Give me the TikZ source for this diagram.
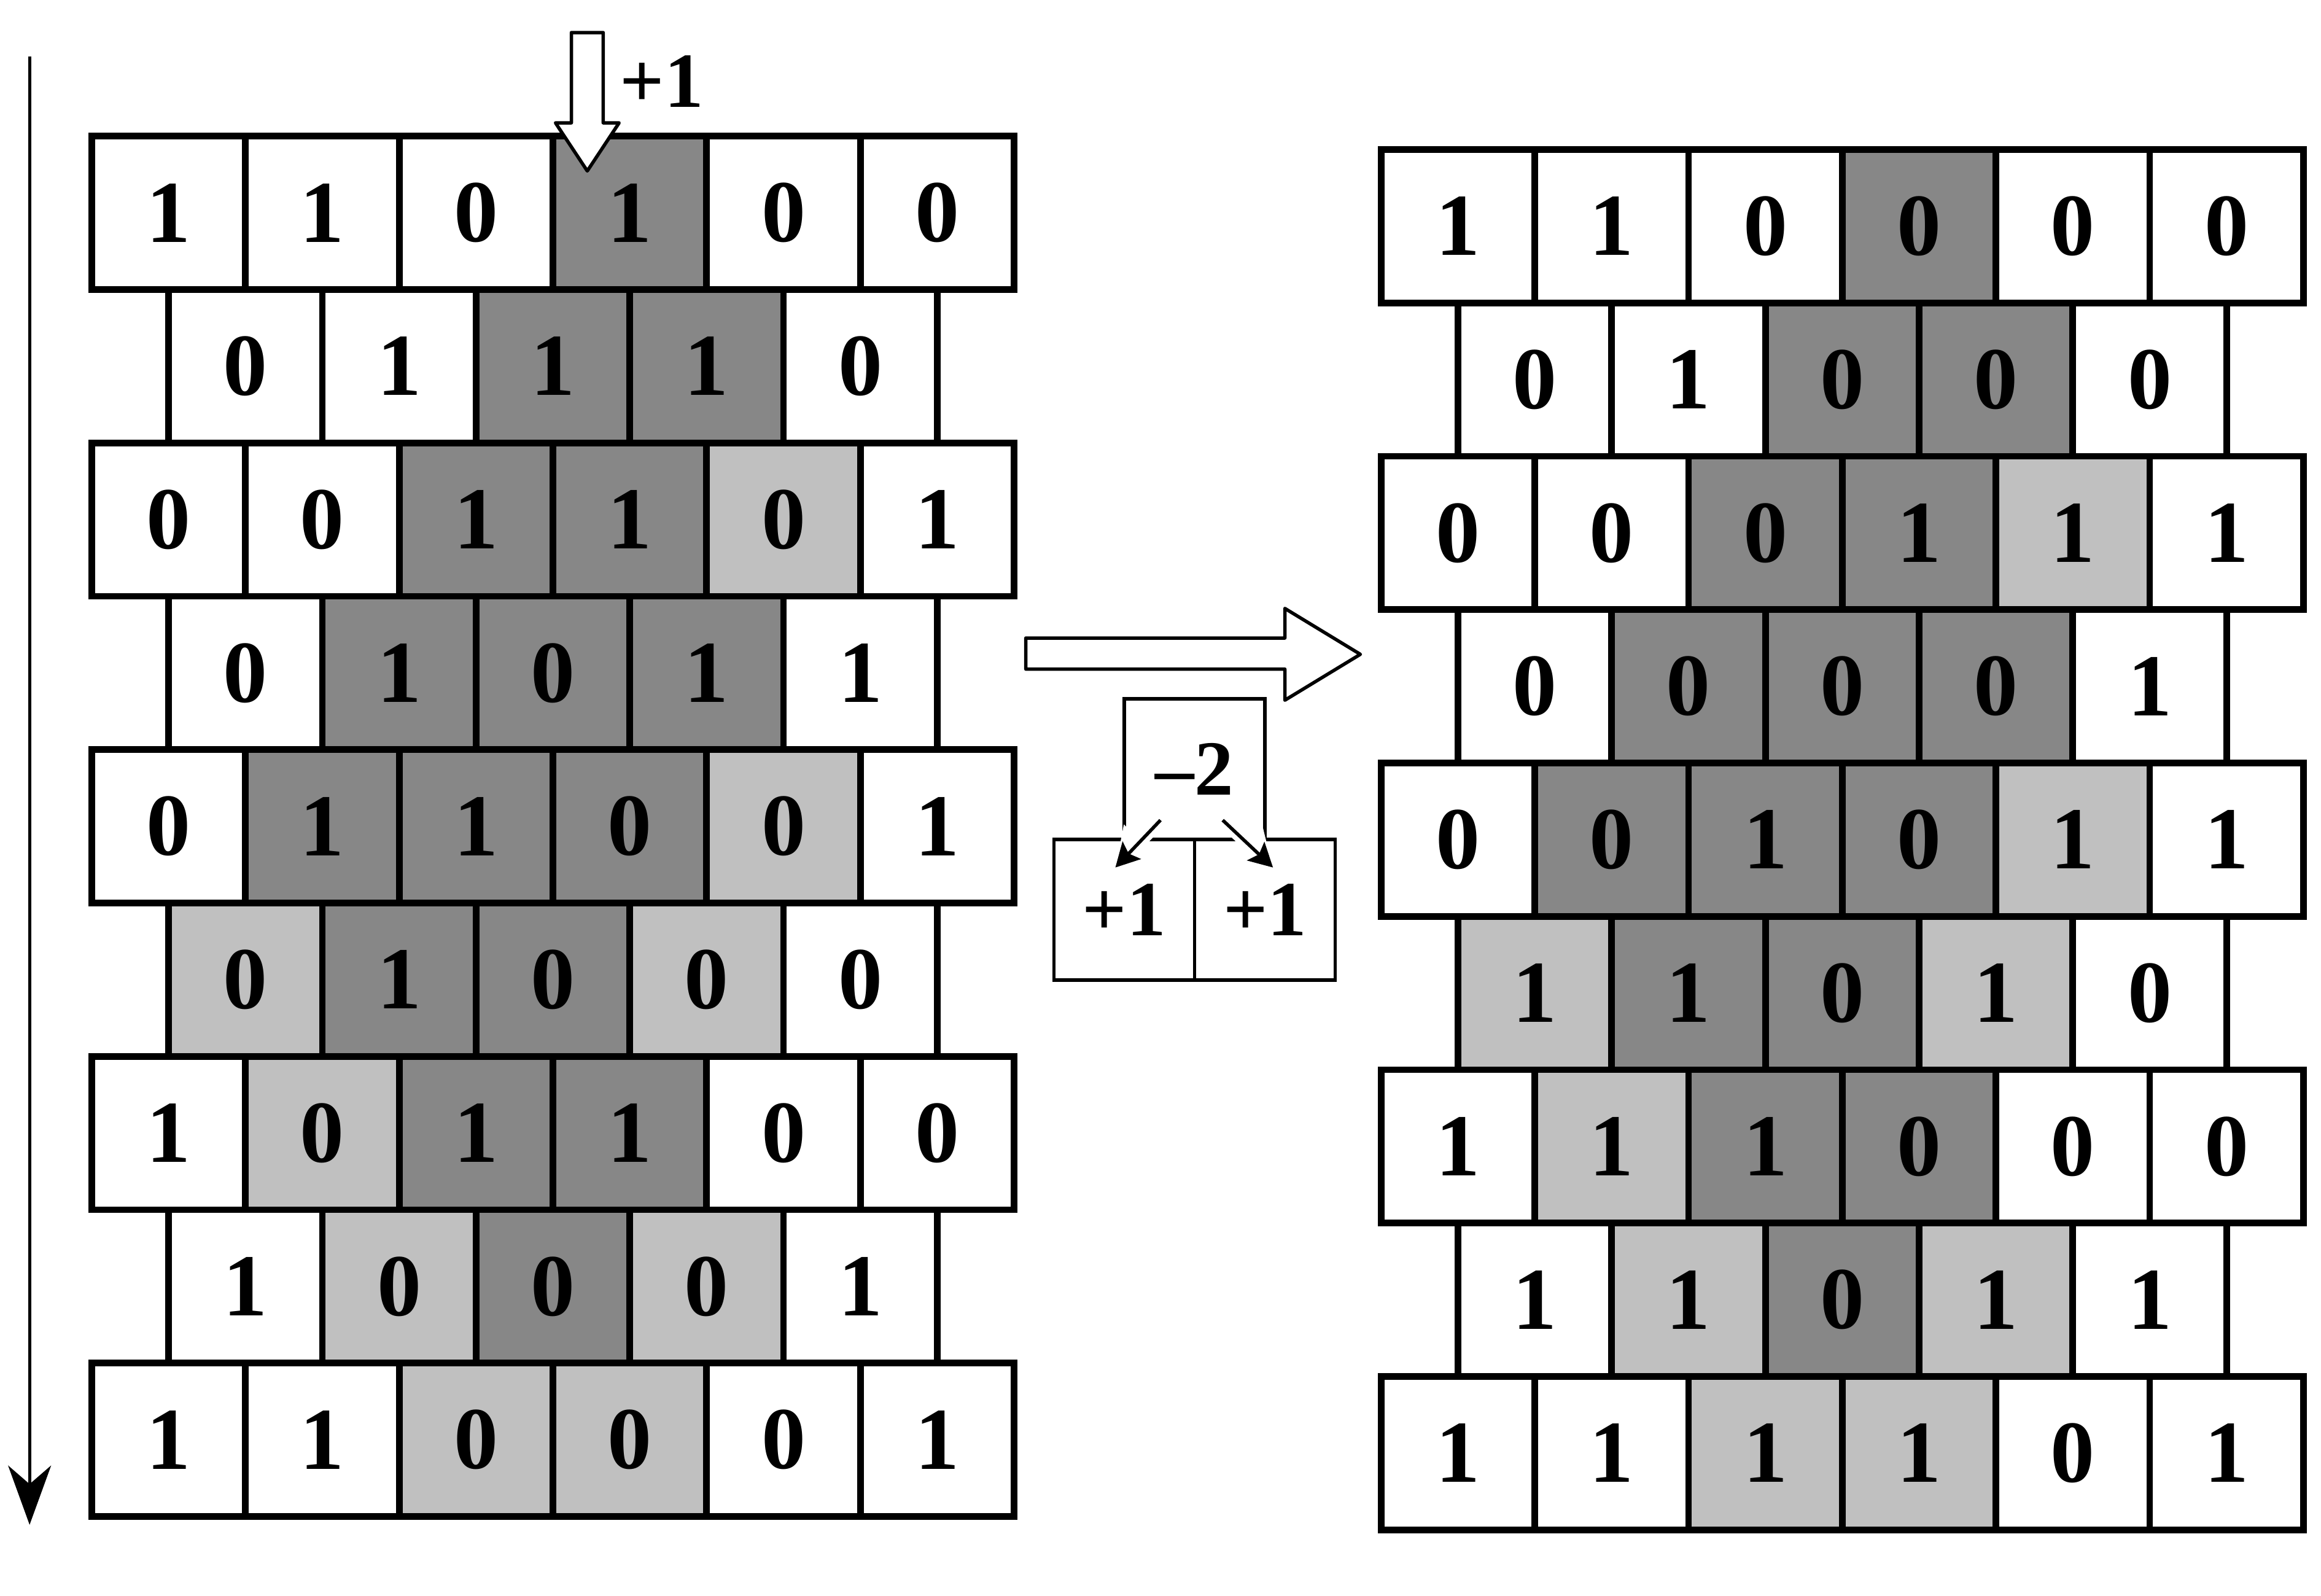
\documentclass[tikz,border=0pt]{standalone}
\usepackage{fontspec}
\setmainfont{Liberation Serif}
\usetikzlibrary{arrows.meta,positioning}
\definecolor{cd}{HTML}{878787}
\definecolor{cl}{HTML}{C0C0C0}
\colorlet{cw}{white}
\tikzset{
  cell/.style={draw, line width=0.09cm, minimum width=2.077cm, minimum height=2.072cm,
    inner sep=0pt, outer sep=0pt, font=\fontsize{34}{34}\selectfont\bfseries},
  smallbox/.style={draw, line width=1.3pt, minimum size=1.9cm, inner sep=0pt, outer sep=0pt,
    font=\fontsize{30}{30}\selectfont\bfseries},
  hollow/.style={draw, fill=white, line width=1.3pt, line join=round},
  smallarrow/.style={line width=1.3pt, -{Stealth[length=0.32cm,width=0.34cm,inset=0.06cm]},
    preaction={draw=white, line width=5pt, -{Triangle[length=0.5cm,width=0.6cm]}}}
}
\def\leftrows{{1/cw,1/cw,0/cw,1/cd,0/cw,0/cw},{0/cw,1/cw,1/cd,1/cd,0/cw},
  {0/cw,0/cw,1/cd,1/cd,0/cl,1/cw},{0/cw,1/cd,0/cd,1/cd,1/cw},
  {0/cw,1/cd,1/cd,0/cd,0/cl,1/cw},{0/cl,1/cd,0/cd,0/cl,0/cw},
  {1/cw,0/cl,1/cd,1/cd,0/cw,0/cw},{1/cw,0/cl,0/cd,0/cl,1/cw},
  {1/cw,1/cw,0/cl,0/cl,0/cw,1/cw}}
\def\rightrows{{1/cw,1/cw,0/cw,0/cd,0/cw,0/cw},{0/cw,1/cw,0/cd,0/cd,0/cw},
  {0/cw,0/cw,0/cd,1/cd,1/cl,1/cw},{0/cw,0/cd,0/cd,0/cd,1/cw},
  {0/cw,0/cd,1/cd,0/cd,1/cl,1/cw},{1/cl,1/cd,0/cd,1/cl,0/cw},
  {1/cw,1/cl,1/cd,0/cd,0/cw,0/cw},{1/cw,1/cl,0/cd,1/cl,1/cw},
  {1/cw,1/cw,1/cl,1/cl,0/cw,1/cw}}
\begin{document}
\begin{tikzpicture}
      \useasboundingbox (0,0) rectangle (31.36,21.56);
      \foreach \row [count=\r] in \leftrows {
        \pgfmathsetmacro\xoff{mod(\r+1,2)*0.5}
        \foreach \v/\s [count=\c] in \row
          \node [cell, fill=\s] (L\r-\c) at ({1.24+(\c-0.5+\xoff)*2.077}, {19.72-(\r-0.5)*2.072}) {\v};
      }
      \foreach \row [count=\r] in \rightrows {
        \pgfmathsetmacro\xoff{mod(\r+1,2)*0.5}
        \foreach \v/\s [count=\c] in \row
          \node [cell, fill=\s] (R\r-\c) at ({18.66+(\c-0.5+\xoff)*2.077}, {19.54-(\r-0.5)*2.072}) {\v};
      }
      \coordinate (axtop) at (0.4,20.8);
      \coordinate (axbot) at (0.4,0.96);
      \draw [line width=1.2pt, -{Stealth[length=0.8cm,width=0.58cm,inset=0.25cm]}] (axtop) -- (axbot);
      \draw [hollow] (7.72,21.12) -- (8.15,21.12) -- (8.15,19.9) -- (8.365,19.9) -- (7.935,19.25)
        -- (7.505,19.9) -- (7.72,19.9) -- cycle;
      \node [font=\fontsize{30}{30}\selectfont\bfseries] (inc) at (8.94,20.46) {+1};
      \draw [hollow] (13.86,12.94) -- (17.36,12.94) -- (17.36,13.34) -- (18.38,12.72)
        -- (17.36,12.10) -- (17.36,12.52) -- (13.86,12.52) -- cycle;
      \node [smallbox] (m2) at (16.14,11.17) {--2};
      \node [smallbox, below=0pt of m2.south west] (p1a) {+1};
      \node [smallbox, below=0pt of m2.south east] (p1b) {+1};
      \draw [smallarrow] ([shift={(-0.46,0.26)}]m2.south) -- ([shift={(-0.12,-0.38)}]p1a.north);
      \draw [smallarrow] ([shift={(0.38,0.26)}]m2.south) -- ([shift={(0.11,-0.38)}]p1b.north);
    \end{tikzpicture}
\end{document}
